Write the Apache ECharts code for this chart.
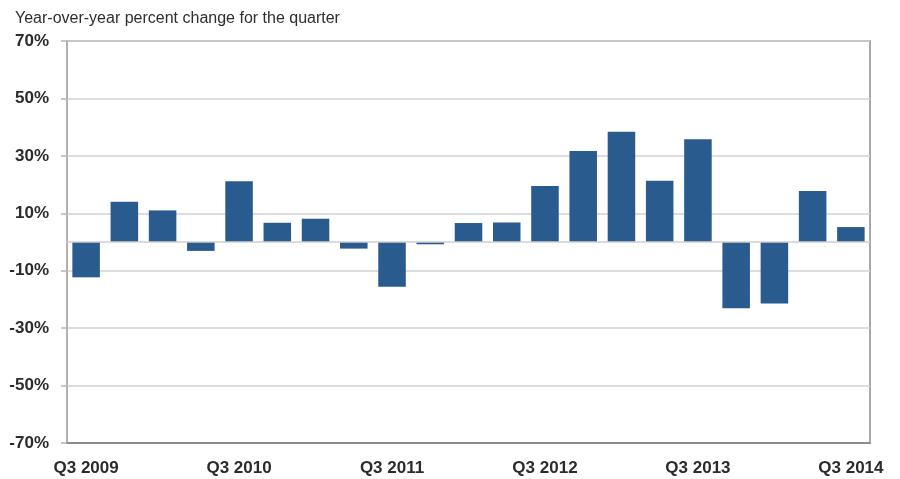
<!DOCTYPE html>
<html>
<head>
	<meta charset="utf-8">
	<title>Year-over-year percent change</title>
	<script src="https://cdn.jsdelivr.net/npm/echarts@6/dist/echarts.min.js"></script>
	<style>
		html, body { margin: 0; padding: 0; background: #fff; }
		#main { width: 900px; height: 479px; }
	</style>
</head>
<body>
<div id="main"></div>
<script type="text/javascript">
	// quarters, Q3 2009 .. Q3 2014
	var quarters = [
		'Q3 2009', 'Q4 2009', 'Q1 2010', 'Q2 2010',
		'Q3 2010', 'Q4 2010', 'Q1 2011', 'Q2 2011',
		'Q3 2011', 'Q4 2011', 'Q1 2012', 'Q2 2012',
		'Q3 2012', 'Q4 2012', 'Q1 2013', 'Q2 2013',
		'Q3 2013', 'Q4 2013', 'Q1 2014', 'Q2 2014',
		'Q3 2014'
	];
	// year-over-year change, percent
	var yoyChange = [
		-12.3, 14.0, 11.0, -3.1,
		21.2, 6.7, 8.1, -2.3,
		-15.6, -0.8, 6.6, 6.8,
		19.5, 31.7, 38.4, 21.3,
		35.8, -23.1, -21.4, 17.8,
		5.2
	];
	// tick labels on the value axis
	var yTicks = [-70, -50, -30, -10, 10, 30, 50, 70];

	var yMin = yTicks[0], yMax = yTicks[yTicks.length - 1];
	var yStep = yTicks[1] - yTicks[0];

	var myChart = echarts.init(document.getElementById('main'));

	var labelFont = {
		fontFamily: '"Liberation Sans", Arial, sans-serif',
		fontWeight: 'bold',
		fontSize: 17,
		color: '#2b2b2b'
	};

	var option = {
		animation: false,
		title: {
			text: 'Year-over-year percent change for the quarter',
			left: 10,
			top: 6,
			textStyle: {
				fontFamily: '"Liberation Sans", Arial, sans-serif',
				fontWeight: 'normal',
				fontSize: 16,
				color: '#2e2e2e'
			}
		},
		grid: {
			left: 67,
			right: 30,
			top: 41,
			bottom: 36,
			show: true,
			borderColor: '#8c8c8c',
			borderWidth: 1.5
		},
		xAxis: [{
			type: 'category',
			data: quarters,
			boundaryGap: true,
			axisLine: { onZero: false, lineStyle: { color: '#8c8c8c', width: 2 } },
			axisTick: { show: false },
			axisLabel: Object.assign({ interval: 3, margin: 17 }, labelFont)
		}],
		yAxis: [{
			// visible axis: shifted so ticks fall on -70, -50, ... 70
			type: 'value',
			min: 0,
			max: yMax - yMin,
			interval: yStep,
			axisLine: { show: true, lineStyle: { color: '#b5b5b5', width: 1.5 } },
			axisTick: { show: true, length: 6, lineStyle: { color: '#b5b5b5', width: 1.5 } },
			splitLine: { lineStyle: { color: '#d2d2d2', width: 1.5 } },
			axisLabel: Object.assign({
				margin: 18,
				formatter: function (v) { return (v + yMin) + '%'; }
			}, labelFont)
		}, {
			// hidden axis that the bars are drawn on
			type: 'value',
			min: yMin,
			max: yMax,
			show: false,
			splitLine: { show: false }
		}],
		series: [{
			type: 'bar',
			yAxisIndex: 1,
			data: yoyChange,
			barCategoryGap: '28%',
			itemStyle: { color: '#2a5b8e' },
			markLine: {
				silent: true,
				symbol: 'none',
				label: { show: false },
				lineStyle: { color: '#cfcfcf', width: 1.5, type: 'solid' },
				data: [{ yAxis: 0 }]
			}
		}]
	};
	myChart.setOption(option);
</script>
</body>
</html>
